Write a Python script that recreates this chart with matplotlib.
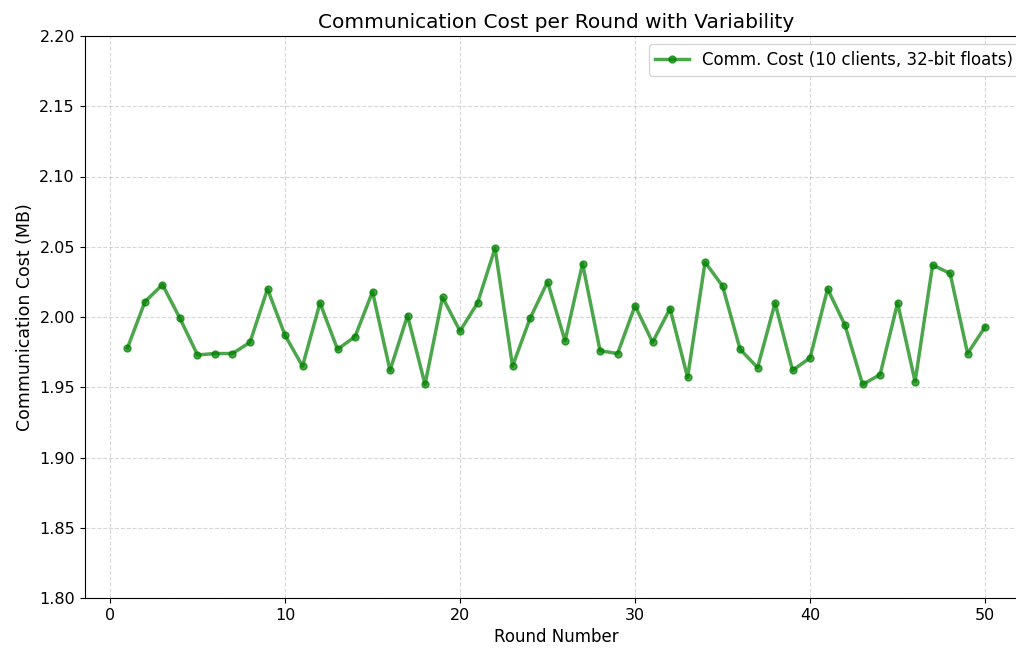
import matplotlib
matplotlib.use("Agg")
import matplotlib.pyplot as plt

# Rondas y costo de comunicación (MB)
rondas = list(range(1, 51))
costo_mb = [
    1.978, 2.011, 2.023, 1.999, 1.973, 1.974, 1.974, 1.982, 2.020, 1.987,
    1.965, 2.010, 1.977, 1.986, 2.018, 1.962, 2.001, 1.952, 2.014, 1.990,
    2.010, 2.049, 1.965, 1.999, 2.025, 1.983, 2.038, 1.976, 1.974, 2.008,
    1.982, 2.006, 1.957, 2.039, 2.022, 1.977, 1.964, 2.010, 1.962, 1.971,
    2.020, 1.994, 1.952, 1.959, 2.010, 1.954, 2.037, 2.031, 1.974, 1.993,
]

fig = plt.figure(figsize=(10.16, 6.48), dpi=100)
# El eje se extiende un poco más allá del borde derecho, como en la captura
ax = fig.add_axes([84.6 / 1016, 1 - 598 / 648, (1028 - 84.6) / 1016, (598 - 36) / 648])

ax.plot(rondas, costo_mb, "o-", color="green", alpha=0.7, linewidth=2.5,
        markersize=5, label="Comm. Cost (10 clients, 32-bit floats)")

ax.set_ylim(1.80, 2.20)
ax.set_title("Communication Cost per Round with Variability", fontsize=14.5)
ax.set_xlabel("Round Number", fontsize=12, labelpad=4)
ax.set_ylabel("Communication Cost (MB)", fontsize=12.5)
ax.tick_params(labelsize=11.5)
ax.grid(True, linestyle="--", alpha=0.5)
ax.legend(loc="upper right", fontsize=12)

plt.savefig("out.png", dpi=100)
